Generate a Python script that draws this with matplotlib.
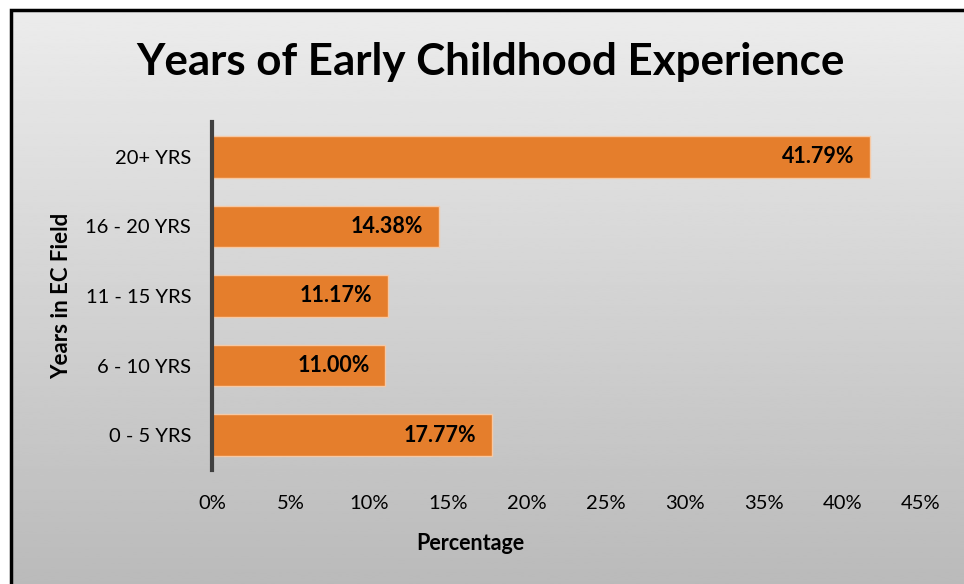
import numpy as np
import matplotlib.pyplot as plt
from matplotlib.patches import Rectangle

categories = ["0 - 5 YRS", "6 - 10 YRS", "11 - 15 YRS", "16 - 20 YRS", "20+ YRS"]
values = [17.77, 11.00, 11.17, 14.38, 41.79]
xticks = [0, 5, 10, 15, 20, 25, 30, 35, 40, 45]

plt.rcParams["font.family"] = ["Lato", "DejaVu Sans"]

fig = plt.figure(figsize=(9.64, 5.84), dpi=100)
fig.patch.set_facecolor("white")

# gray gradient behind the chart area, framed by a thin black border
bg = fig.add_axes([11 / 964, 0, 1 - 11 / 964, 1 - 10 / 584], zorder=0)
grad = np.linspace(0.925, 0.73, 256).reshape(-1, 1)
bg.imshow(grad, cmap="gray", vmin=0, vmax=1, aspect="auto", extent=[0, 1, 0, 1])
bg.set_xlim(0, 1)
bg.set_ylim(0, 1)
bg.axis("off")
bg.add_patch(Rectangle((0, -0.2), 1.2, 1.2, fill=False, edgecolor="black", lw=2.5,
                       transform=bg.transAxes, clip_on=False))

ax = fig.add_axes([212 / 964, 1 - 470 / 584, (921 - 212) / 964, (470 - 122) / 584], zorder=1)
ax.patch.set_alpha(0)

y = np.arange(len(categories))
ax.barh(y, values, height=0.6, color="#E57E2C", edgecolor="#F6C9A5", linewidth=1)

for yi, v in zip(y, values):
    ax.text(v - 1.0, yi, f"{v:.2f}%", ha="right", va="center",
            fontsize=15.5, fontweight="bold", color="black")

ax.set_xlim(0, 45)
ax.set_ylim(-0.5, 4.5)
ax.set_xticks(xticks)
ax.set_xticklabels([f"{t}%" for t in xticks], fontsize=14.5)
ax.set_yticks(y)
ax.set_yticklabels(categories, fontsize=14.5)
ax.tick_params(length=0)
ax.tick_params(axis="y", pad=15)
ax.tick_params(axis="x", pad=18)

for side in ["top", "right", "bottom"]:
    ax.spines[side].set_visible(False)
ax.spines["left"].set_color("#404040")
ax.spines["left"].set_linewidth(3)

ax.set_ylabel("Years in EC Field", fontsize=16, fontweight="bold")
ax.yaxis.set_label_coords((72 - 212) / 709, 0.5)

fig.text(470 / 964, 1 - 543 / 584, "Percentage", ha="center", va="center",
         fontsize=15.5, fontweight="bold")
fig.text(490 / 964, 1 - 62 / 584, "Years of Early Childhood Experience",
         ha="center", va="center", fontsize=31.6, fontweight="bold")

fig.savefig("out.png", dpi=100)
